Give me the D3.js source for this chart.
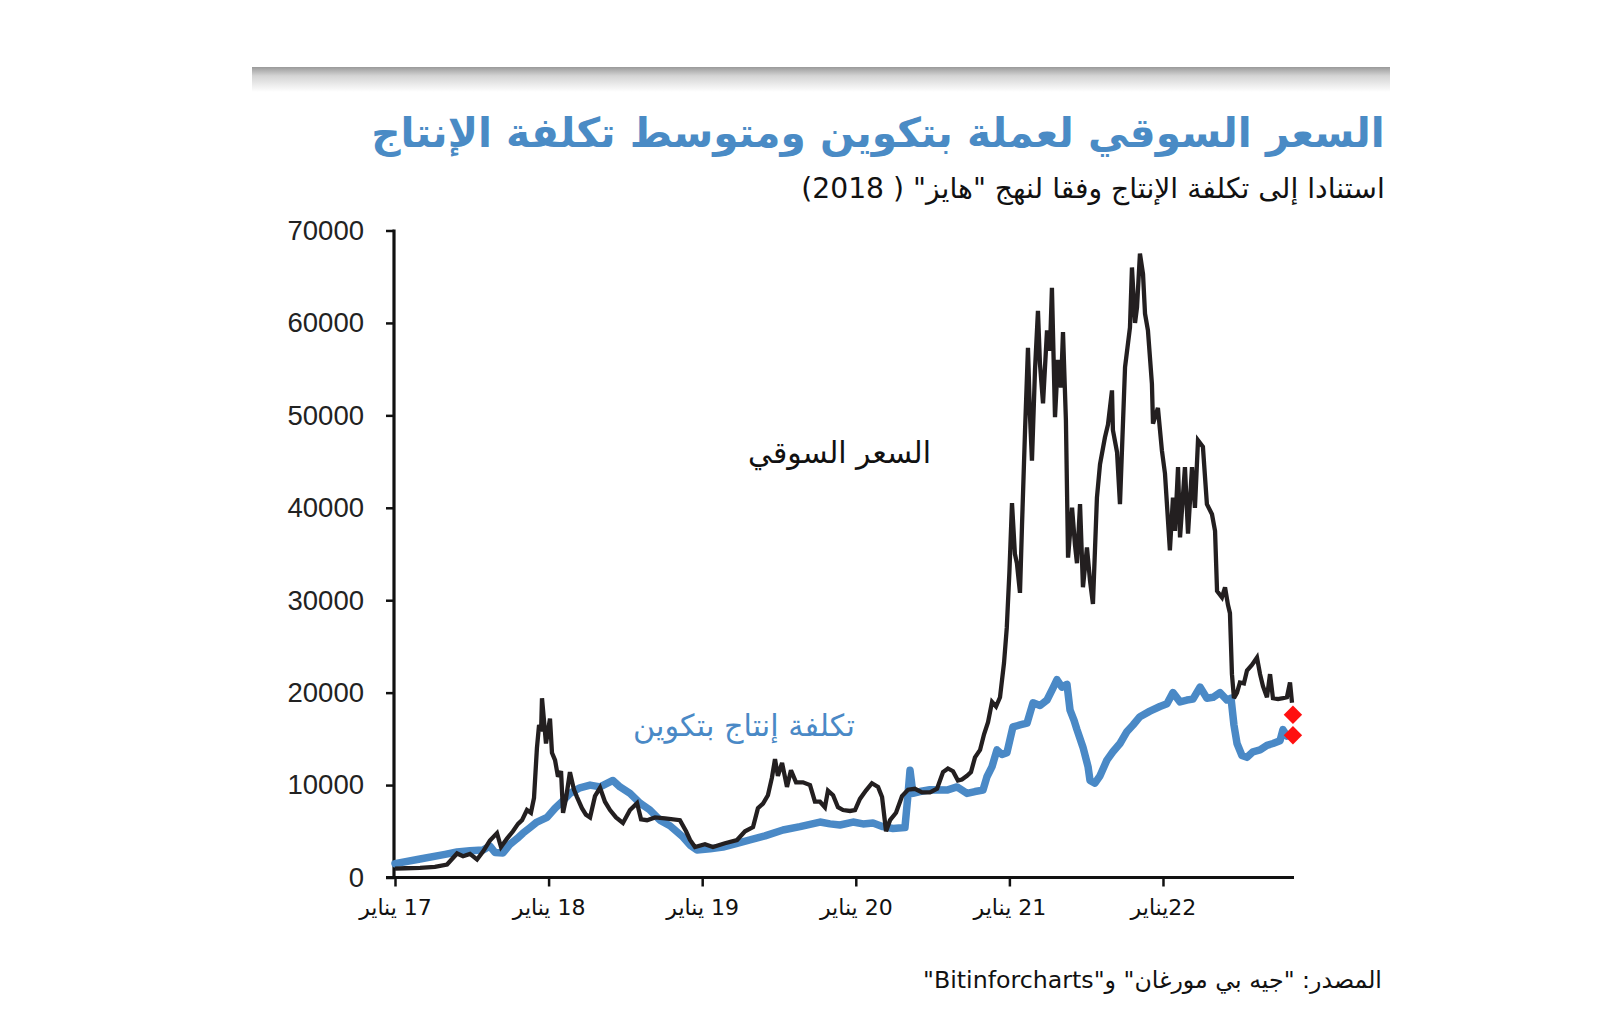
<!DOCTYPE html>
<html><head><meta charset="utf-8">
<script src="https://cdn.jsdelivr.net/npm/d3@7"></script>
<style>body{margin:0;background:#fff}</style>
</head><body>
<svg id="c" width="1600" height="1018"></svg>
<script>
// ---------- DATA ----------
const titleText = "السعر السوقي لعملة بتكوين ومتوسط تكلفة الإنتاج";
const subtitleText = "استنادا إلى تكلفة الإنتاج وفقا لنهج \"هايز\" ( 2018)";
const sourceText = "المصدر: \"جيه بي مورغان\" و\"Bitinforcharts\"";
const priceLabel = "السعر السوقي";
const costLabel = "تكلفة إنتاج بتكوين";

const yTicks = [0,10000,20000,30000,40000,50000,60000,70000];
const xTickYears = [2017,2018,2019,2020,2021,2022];
const xTickLabels = ["17 يناير","18 يناير","19 يناير","20 يناير","21 يناير","22يناير"];

const priceYears = [2017.000,2017.065,2017.163,2017.260,2017.339,2017.404,2017.443,2017.488,2017.534,2017.573,2017.618,2017.664,2017.690,2017.729,2017.768,2017.801,2017.827,2017.859,2017.885,2017.905,2017.924,2017.938,2017.951,2017.957,2017.970,2017.983,2018.009,2018.022,2018.042,2018.061,2018.081,2018.094,2018.113,2018.139,2018.165,2018.185,2018.217,2018.243,2018.270,2018.302,2018.335,2018.367,2018.400,2018.439,2018.484,2018.530,2018.576,2018.602,2018.641,2018.693,2018.758,2018.855,2018.895,2018.921,2018.953,2019.018,2019.070,2019.148,2019.227,2019.279,2019.331,2019.363,2019.396,2019.428,2019.454,2019.474,2019.493,2019.520,2019.552,2019.578,2019.611,2019.656,2019.702,2019.734,2019.767,2019.799,2019.819,2019.852,2019.884,2019.917,2019.962,2019.995,2020.027,2020.066,2020.105,2020.145,2020.171,2020.197,2020.223,2020.262,2020.301,2020.340,2020.385,2020.431,2020.483,2020.529,2020.568,2020.600,2020.633,2020.665,2020.691,2020.724,2020.750,2020.776,2020.809,2020.835,2020.861,2020.887,2020.913,2020.939,2020.965,2020.983,2021.000,2021.017,2021.036,2021.049,2021.069,2021.082,2021.102,2021.121,2021.134,2021.147,2021.167,2021.186,2021.199,2021.219,2021.245,2021.264,2021.277,2021.297,2021.316,2021.336,2021.349,2021.368,2021.382,2021.408,2021.427,2021.440,2021.460,2021.479,2021.505,2021.525,2021.544,2021.570,2021.590,2021.622,2021.642,2021.668,2021.674,2021.701,2021.720,2021.753,2021.785,2021.798,2021.818,2021.831,2021.850,2021.870,2021.883,2021.902,2021.928,2021.935,2021.967,2021.993,2022.013,2022.045,2022.065,2022.078,2022.098,2022.111,2022.143,2022.163,2022.189,2022.208,2022.228,2022.260,2022.286,2022.319,2022.339,2022.352,2022.384,2022.404,2022.423,2022.436,2022.449,2022.462,2022.482,2022.501,2022.527,2022.547,2022.579,2022.612,2022.632,2022.651,2022.677,2022.697,2022.716,2022.749,2022.781,2022.807,2022.827,2022.840];
const priceValues = [950,1000,1050,1150,1400,2600,2300,2550,1950,2800,4000,4800,3300,4200,5000,5800,6200,7300,7000,8600,14000,16500,15800,19400,17000,14500,17200,13500,12700,10900,11500,7000,8500,11400,9500,8700,7500,6800,6500,8800,9700,8200,7300,6500,5900,7300,8050,6300,6200,6500,6400,6200,5000,4060,3300,3600,3300,3700,4060,5000,5460,7500,8000,8900,10800,12800,11000,12400,9800,11600,10300,10300,10000,8200,8200,7600,9400,8900,7600,7300,7200,7300,8500,9400,10200,9800,8700,5000,6200,7000,8800,9500,9600,9200,9200,9600,11400,11800,11500,10500,10600,11000,11400,13000,13800,15500,16800,19000,18500,19500,23200,27000,33000,40500,35000,34000,30800,38000,48400,57300,50000,45100,55000,61300,55600,51300,59200,57000,63800,49800,56000,53000,59000,49500,34600,40000,36000,34000,40400,31400,35700,32100,29600,41100,44700,47600,49000,52700,48400,46000,40400,55200,59500,66000,60000,61700,67500,65300,61000,59200,53400,49100,50800,46200,43700,35400,41100,37500,44400,36800,44400,37200,44400,40000,47300,46600,40400,39300,37500,31000,30300,31400,29500,28600,22000,19400,20000,21100,21000,22400,23000,23800,22000,20700,19500,22000,19400,19300,19400,19500,21100,18900];

const costYears = [2017.000,2017.163,2017.326,2017.404,2017.488,2017.573,2017.618,2017.651,2017.703,2017.749,2017.794,2017.833,2017.879,2017.924,2017.990,2018.042,2018.094,2018.139,2018.204,2018.270,2018.335,2018.419,2018.465,2018.530,2018.595,2018.660,2018.725,2018.790,2018.875,2018.921,2018.966,2019.051,2019.135,2019.227,2019.311,2019.409,2019.526,2019.637,2019.767,2019.832,2019.897,2019.982,2020.047,2020.112,2020.177,2020.242,2020.320,2020.340,2020.353,2020.372,2020.418,2020.483,2020.594,2020.659,2020.724,2020.776,2020.828,2020.854,2020.887,2020.919,2020.952,2020.984,2021.023,2021.069,2021.115,2021.154,2021.199,2021.245,2021.284,2021.310,2021.342,2021.375,2021.395,2021.421,2021.440,2021.479,2021.512,2021.525,2021.557,2021.590,2021.635,2021.674,2021.720,2021.766,2021.805,2021.850,2021.915,2021.980,2022.026,2022.065,2022.111,2022.156,2022.195,2022.241,2022.286,2022.326,2022.371,2022.417,2022.443,2022.462,2022.482,2022.514,2022.547,2022.586,2022.632,2022.677,2022.716,2022.762,2022.781,2022.807];
const costValues = [1500,2000,2500,2760,2900,2980,3400,2700,2650,3600,4200,4800,5400,6000,6500,7500,8300,9100,9700,10000,9800,10500,9800,9100,8050,7300,6200,5600,4380,3500,2980,3100,3300,3700,4060,4500,5140,5500,6000,5800,5680,6000,5800,5900,5500,5300,5400,9000,11600,9100,9300,9500,9460,9800,9100,9300,9460,10900,12000,13800,13300,13500,16300,16500,16700,18900,18600,19200,20500,21400,20600,20900,18100,17000,16000,14100,12000,10500,10200,11000,12700,13600,14500,15800,16500,17400,18000,18500,18800,20000,19000,19200,19300,20600,19400,19500,20000,19200,19400,16500,14500,13200,13000,13600,13800,14300,14500,14800,16000,15300];

const markerYears = [2022.846, 2022.846];
const markerValues = [17600, 15400];

// ---------- CHART ----------
const svg = d3.select("#c");
const AR = "'DejaVu Sans', sans-serif";
const x = d3.scaleLinear().domain([2017, 2022.853]).range([395, 1294]);
const y = d3.scaleLinear().domain([0, 70000]).range([877.5, 230.5]);

// top gray band
const defs = svg.append("defs");
const g1 = defs.append("linearGradient").attr("id","band").attr("x1",0).attr("y1",0).attr("x2",0).attr("y2",1);
g1.append("stop").attr("offset","0%").attr("stop-color","#9a9a9a");
g1.append("stop").attr("offset","35%").attr("stop-color","#d4d4d4");
g1.append("stop").attr("offset","100%").attr("stop-color","#ffffff");
svg.append("rect").attr("x",252).attr("y",67).attr("width",1138).attr("height",25).attr("fill","url(#band)");

function rtlText(txt, rightX, baseY, size, color, weight, width){
  const t = svg.append("text").text(txt)
    .attr("direction","rtl").style("direction","rtl").style("unicode-bidi","embed")
    .attr("font-family",AR).attr("font-size",size).attr("font-weight",weight)
    .attr("fill",color).attr("text-anchor","middle").attr("y",baseY);
  let len = t.node().getComputedTextLength();
  if (width) { t.attr("font-size", size*width/len); len = width; }
  t.attr("x", rightX - len/2);
  return t;
}
rtlText(titleText, 1385, 147, 44, "#4a8bc5", "bold", 1014);
rtlText(subtitleText, 1385, 198, 26, "#111", "normal", 584);
rtlText(sourceText, 1382, 988, 22, "#111", "normal", 459);

// axes
const yAxis = d3.axisLeft(y).tickValues(yTicks).tickSize(8).tickSizeOuter(0).tickPadding(22).tickFormat(d3.format("d"));
const gy = svg.append("g").attr("transform","translate(394,0)").call(yAxis);
gy.select(".domain").remove();
gy.selectAll(".tick line").attr("stroke","#111").attr("stroke-width",2.5);
gy.selectAll(".tick text").attr("font-family","'Liberation Sans', Arial, sans-serif").attr("font-size",27.5).attr("fill","#222");

const xAxis = d3.axisBottom(x).tickValues(xTickYears).tickSize(9).tickSizeOuter(0).tickPadding(13)
  .tickFormat((d,i)=>xTickLabels[i]);
const gx = svg.append("g").attr("transform","translate(0,877.5)").call(xAxis);
gx.select(".domain").remove();
gx.selectAll(".tick line").attr("stroke","#111").attr("stroke-width",2.5);
gx.selectAll(".tick text").attr("font-family",AR).attr("font-size",22).attr("fill","#111")
  .attr("direction","rtl").style("direction","rtl").style("unicode-bidi","embed");

// axis lines
svg.append("line").attr("x1",394).attr("x2",394).attr("y1",y(70000)-1).attr("y2",y(0)+1.5).attr("stroke","#111").attr("stroke-width",3.2);
svg.append("line").attr("x1",386).attr("x2",x.range()[1]).attr("y1",y(0)).attr("y2",y(0)).attr("stroke","#111").attr("stroke-width",3.2);

// lines
const line = d3.line().x(d=>x(d[0])).y(d=>y(d[1]));
svg.append("path").datum(costYears.map((t,i)=>[t,costValues[i]]))
  .attr("d",line).attr("fill","none").attr("stroke","#4a89c6").attr("stroke-width",7.5)
  .attr("stroke-linejoin","round").attr("stroke-linecap","round");
svg.append("path").datum(priceYears.map((t,i)=>[t,priceValues[i]]))
  .attr("d",line).attr("fill","none").attr("stroke","#231f20").attr("stroke-width",4.3)
  .attr("stroke-linejoin","miter").attr("stroke-miterlimit",3);

// red markers
svg.selectAll(".mk").data(markerYears.map((t,i)=>[t,markerValues[i]])).enter()
  .append("path").attr("class","mk")
  .attr("d", d3.symbol(d3.symbolSquare, 170)())
  .attr("transform", d=>`translate(${x(d[0])},${y(d[1])}) rotate(45)`)
  .attr("fill","#ff1010");

// series labels
rtlText(priceLabel, 931, 463, 26, "#111", "normal", 183);
rtlText(costLabel, 855, 736, 26, "#4a89c6", "normal", 222);
</script>
</body></html>
